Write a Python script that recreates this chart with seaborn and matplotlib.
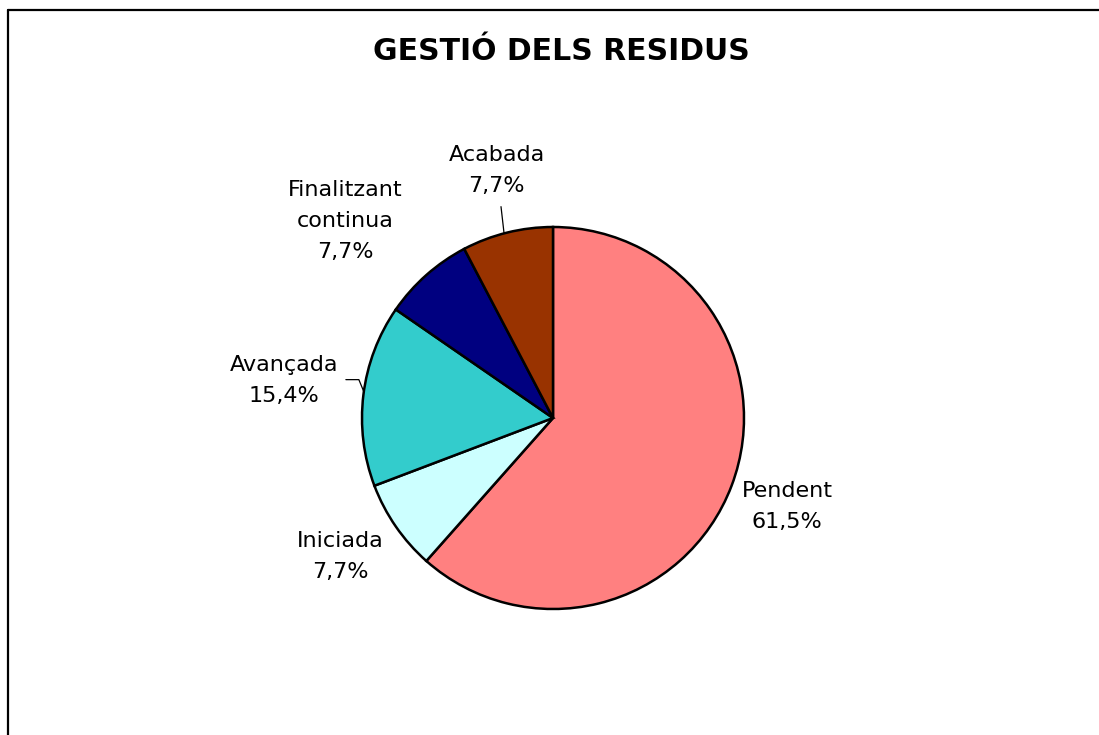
import numpy as np
import matplotlib
matplotlib.use('Agg')
import matplotlib.pyplot as plt
import seaborn as sns

# %% data
labels = ['Pendent', 'Iniciada', 'Avançada', 'Finalitzant\ncontinua', 'Acabada']
counts = [8, 1, 2, 1, 1]
colors = ['#FF8080', '#CCFFFF', '#33CCCC', '#000080', '#993300']
# radial distance of each label (in radii) and small angle nudges (deg)
label_dist = [1.31, 1.33, 1.42, 1.50, 1.33]
label_nudge = [0, -1.5, -1, 5, -1]

sns.set_style('white')
plt.rcParams['font.family'] = ['DejaVu Sans']
plt.rcParams['text.color'] = 'black'

W, H = 1099, 735
fig = plt.figure(figsize=(W / 100, H / 100), dpi=100)

# frame of the chart area (top and left edges visible)
fig.add_artist(plt.Line2D([8 / W, 1], [1 - 10 / H, 1 - 10 / H], color='black', lw=1.6))
fig.add_artist(plt.Line2D([8 / W, 8 / W], [0, 1 - 10 / H], color='black', lw=1.6))

fig.text(561 / W, 1 - 52 / H, 'GESTIÓ DELS RESIDUS', ha='center', va='center',
         fontsize=21.5, fontweight='bold', color='black')

cx, cy, r = 553, 418, 191
ax = fig.add_axes([(cx - r) / W, (H - cy - r) / H, 2 * r / W, 2 * r / H])
wedges, _ = ax.pie(counts, colors=colors, startangle=90, counterclock=False,
                   radius=1, wedgeprops=dict(edgecolor='black', linewidth=1.8))
ax.set_xlim(-1, 1)
ax.set_ylim(-1, 1)
ax.set_aspect('equal')
ax.axis('off')

total = sum(counts)
for i, w in enumerate(wedges):
    ang = np.deg2rad((w.theta1 + w.theta2) / 2 + label_nudge[i])
    d = label_dist[i]
    pct = counts[i] / total * 100
    txt = labels[i] + '\n' + f'{pct:.1f}%'.replace('.', ',')
    ax.text(d * np.cos(ang), d * np.sin(ang), txt, ha='center', va='center',
            fontsize=16, linespacing=1.7, color='black', clip_on=False)

# leader lines for Avançada and Acabada
a = np.deg2rad((wedges[2].theta1 + wedges[2].theta2) / 2 - 1)
ex, ey = np.cos(a), np.sin(a)
ax.plot([ex - 0.094, ex - 0.026, ex], [ey + 0.063, ey + 0.063, ey],
        color='black', lw=0.9, clip_on=False)
a = np.deg2rad((wedges[4].theta1 + wedges[4].theta2) / 2 + 1)
ex, ey = np.cos(a), np.sin(a)
ax.plot([ex - 0.016, ex], [ey + 0.14, ey], color='black', lw=0.9, clip_on=False)

fig.savefig('out.png', dpi=100)
